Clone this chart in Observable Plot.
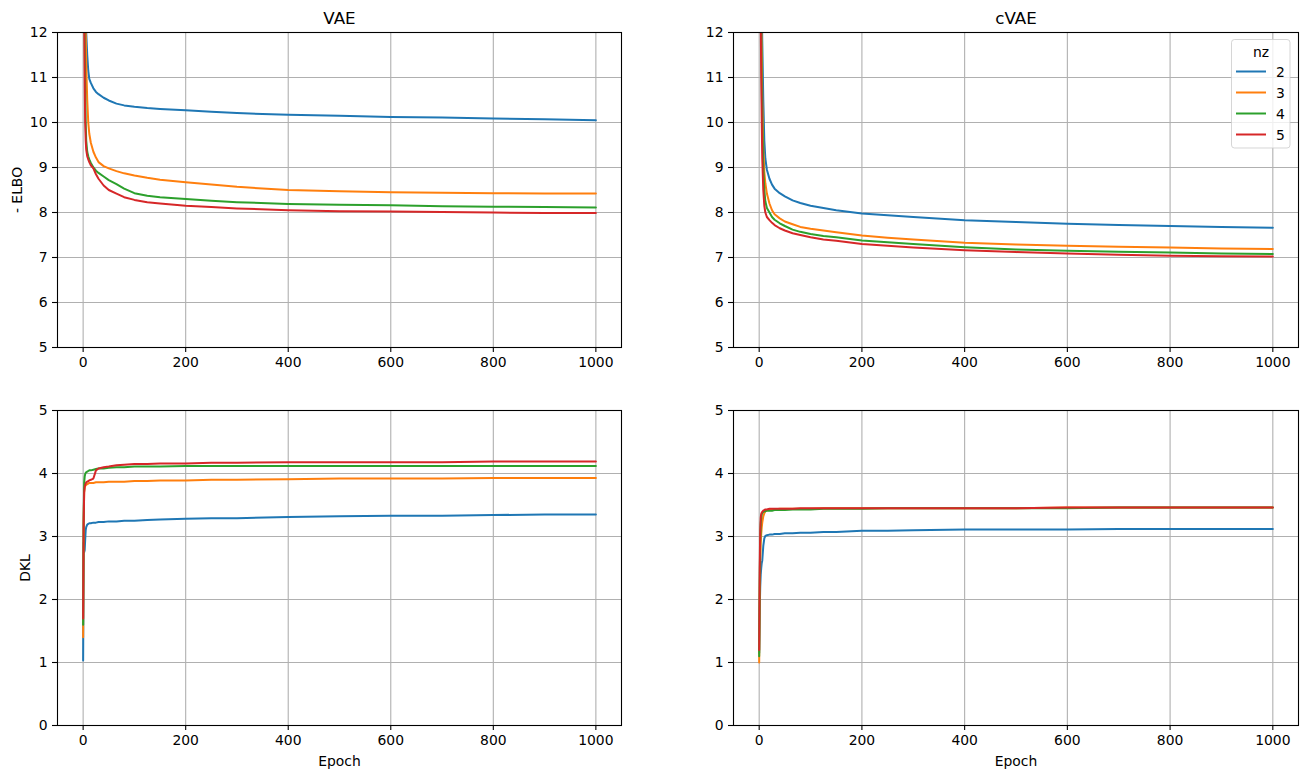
<!DOCTYPE html>
<html><head><meta charset="utf-8">
<script src="https://cdn.jsdelivr.net/npm/d3@7"></script>
<script src="https://cdn.jsdelivr.net/npm/@observablehq/plot@0.6"></script>
<style>
body{margin:0;background:#fff;}
#fig{position:relative;width:1307px;height:778px;font-family:"DejaVu Sans",sans-serif;background:#fff;}
#fig > svg, #fig > div{position:absolute;}
</style></head><body><div id="fig"></div>
<script>
// ---- data ----
const epochs = [0,1,2,3,4,5,6,8,10,12,15,20,25,30,40,50,65,80,100,125,150,200,250,300,400,500,600,700,800,900,1000];
const nzLabels = ["2","3","4","5"];
const colors = ["#1f77b4","#ff7f0e","#2ca02c","#d62728"];
const xTicks = [0,200,400,600,800,1000];
const elboTicks = [5,6,7,8,9,10,11,12];
const dklTicks = [0,1,2,3,4,5];

// VAE  - ELBO
const vaeElbo2 = [20,17,15,13.8,13,12.4,12.0,11.5,11.15,10.97,10.88,10.76,10.68,10.63,10.55,10.49,10.42,10.38,10.35,10.32,10.30,10.27,10.24,10.21,10.17,10.15,10.12,10.11,10.09,10.07,10.05];
const vaeElbo3 = [20,16,14,13,12.4,12.0,11.3,10.5,10.0,9.75,9.55,9.35,9.22,9.12,9.03,8.98,8.92,8.87,8.82,8.77,8.73,8.67,8.62,8.57,8.50,8.47,8.45,8.44,8.43,8.42,8.42];
const vaeElbo4 = [20,15,13,11.8,10.8,10.0,9.6,9.35,9.25,9.18,9.1,9.0,8.93,8.88,8.8,8.72,8.63,8.53,8.43,8.37,8.34,8.30,8.26,8.23,8.19,8.17,8.16,8.14,8.13,8.12,8.11];
const vaeElbo5 = [20,14.5,12.5,11,10.0,9.6,9.4,9.25,9.18,9.12,9.05,8.98,8.85,8.75,8.6,8.5,8.42,8.34,8.28,8.23,8.2,8.15,8.12,8.09,8.05,8.03,8.02,8.01,8.0,7.99,7.99];
// cVAE  - ELBO
const cvaeElbo2 = [25,20,17,15,13.5,12.6,11.8,10.5,9.6,9.2,8.95,8.75,8.62,8.53,8.43,8.36,8.27,8.21,8.15,8.1,8.05,7.98,7.94,7.9,7.83,7.79,7.75,7.72,7.70,7.68,7.66];
const cvaeElbo3 = [25,19,16,14,12.5,11.5,10.5,9.4,8.9,8.65,8.42,8.2,8.05,7.96,7.87,7.8,7.74,7.68,7.64,7.6,7.56,7.49,7.44,7.40,7.33,7.29,7.26,7.24,7.22,7.2,7.19];
const cvaeElbo4 = [25,18,15,13,11.8,10.8,10.0,9.0,8.5,8.25,8.1,8.0,7.9,7.84,7.76,7.7,7.62,7.57,7.52,7.48,7.45,7.38,7.34,7.3,7.23,7.18,7.15,7.13,7.11,7.09,7.08];
const cvaeElbo5 = [25,17,14,12.3,11,10,9.2,8.5,8.15,8.0,7.9,7.83,7.77,7.72,7.65,7.6,7.54,7.5,7.45,7.4,7.37,7.3,7.26,7.22,7.16,7.12,7.09,7.06,7.04,7.03,7.02];
// VAE  DKL
const vaeDkl2 = [1.03,2.9,2.75,2.78,2.95,3.1,3.15,3.19,3.2,3.21,3.21,3.22,3.22,3.23,3.23,3.24,3.24,3.25,3.25,3.26,3.27,3.28,3.29,3.29,3.31,3.32,3.33,3.33,3.34,3.35,3.35];
const vaeDkl3 = [1.4,3.2,3.7,3.78,3.8,3.81,3.82,3.83,3.84,3.85,3.85,3.85,3.86,3.86,3.86,3.87,3.87,3.87,3.88,3.88,3.89,3.89,3.9,3.9,3.91,3.92,3.92,3.92,3.93,3.93,3.93];
const vaeDkl4 = [1.6,3.3,3.85,3.95,3.99,4.01,4.02,4.03,4.04,4.05,4.05,4.06,4.07,4.08,4.08,4.09,4.1,4.1,4.11,4.11,4.11,4.12,4.12,4.12,4.12,4.12,4.12,4.12,4.12,4.12,4.12];
const vaeDkl5 = [1.7,3.2,3.7,3.78,3.82,3.84,3.86,3.87,3.88,3.89,3.9,3.92,4.05,4.08,4.1,4.11,4.13,4.14,4.15,4.15,4.16,4.16,4.17,4.17,4.18,4.18,4.18,4.18,4.19,4.19,4.19];
// cVAE DKL
const cvaeDkl2 = [1.15,1.8,2.2,2.4,2.5,2.58,2.62,2.85,2.97,3.01,3.02,3.03,3.03,3.04,3.04,3.05,3.05,3.06,3.06,3.07,3.07,3.09,3.09,3.1,3.11,3.11,3.11,3.12,3.12,3.12,3.12];
const cvaeDkl3 = [1.0,2.0,2.6,2.9,3.05,3.15,3.22,3.32,3.37,3.4,3.42,3.43,3.43,3.43,3.44,3.44,3.44,3.44,3.44,3.45,3.45,3.45,3.45,3.45,3.45,3.45,3.46,3.46,3.46,3.46,3.46];
const cvaeDkl4 = [1.1,2.3,2.9,3.2,3.3,3.35,3.37,3.39,3.4,3.4,3.41,3.41,3.41,3.42,3.42,3.42,3.43,3.43,3.43,3.44,3.44,3.44,3.45,3.45,3.45,3.45,3.45,3.46,3.46,3.46,3.46];
const cvaeDkl5 = [1.2,2.5,3.1,3.3,3.36,3.38,3.39,3.41,3.42,3.43,3.43,3.44,3.44,3.44,3.44,3.44,3.44,3.45,3.45,3.45,3.45,3.45,3.45,3.45,3.45,3.45,3.46,3.46,3.46,3.46,3.46];

// ---- drawing ----
const FONT = "DejaVu Sans";
const FS = 13.9;
const GRID = {stroke:"#b0b0b0", strokeOpacity:1, strokeWidth:1.1};
const fmt = d => String(d);

function toRows(seriesList){
  return seriesList.flatMap((vals,i)=>epochs.map((e,j)=>({epoch:e, value:vals[j], nz:nzLabels[i]})));
}

function panel({series, title, ylabel, ylabelDx, xlabel, yDomain, yTicks, left, top, width, height, mt, mr, mb, ml}){
  const marks = [
    Plot.gridX(xTicks, GRID),
    Plot.gridY(yTicks, GRID),
    Plot.line(toRows(series), {x:"epoch", y:"value", stroke:"nz", strokeWidth:2, clip:true}),
    Plot.frame({stroke:"black", strokeWidth:1.1}),
    Plot.axisX(xTicks, {tickSize:5, tickPadding:5, label:null, strokeWidth:1.1, fontSize:FS, tickFormat:fmt}),
    Plot.axisY(yTicks, {tickSize:5, tickPadding:5, label:null, strokeWidth:1.1, fontSize:FS, tickFormat:fmt})
  ];
  if (title) marks.push(Plot.text([title], {text:d=>d, frameAnchor:"top", dy:-14, lineAnchor:"middle", textAnchor:"middle", fontSize:16.7, fill:"black"}));
  if (ylabel) marks.push(Plot.text([ylabel], {text:d=>d, frameAnchor:"left", dx:ylabelDx, rotate:-90, textAnchor:"middle", lineAnchor:"middle", fontSize:FS, fill:"black"}));
  if (xlabel) marks.push(Plot.text([xlabel], {text:d=>d, frameAnchor:"bottom", dy:36, lineAnchor:"middle", textAnchor:"middle", fontSize:FS, fill:"black"}));
  const svg = Plot.plot({
    width, height, marginTop:mt, marginRight:mr, marginBottom:mb, marginLeft:ml,
    style:{fontFamily:FONT, fontSize:FS+"px", color:"black", background:"transparent", overflow:"visible"},
    x:{domain:[-50,1050]},
    y:{domain:yDomain},
    color:{domain:nzLabels, range:colors},
    marks
  });
  svg.style.left = left+"px";
  svg.style.top = top+"px";
  document.getElementById("fig").appendChild(svg);
}

panel({series:[vaeElbo2,vaeElbo3,vaeElbo4,vaeElbo5], title:"VAE", ylabel:"- ELBO", ylabelDx:-40,
  yDomain:[5,12], yTicks:elboTicks, left:0, top:0, width:653, height:389, mt:32, mr:32, mb:42, ml:57});
panel({series:[cvaeElbo2,cvaeElbo3,cvaeElbo4,cvaeElbo5], title:"cVAE",
  yDomain:[5,12], yTicks:elboTicks, left:653, top:0, width:654, height:389, mt:32, mr:9, mb:42, ml:80});
panel({series:[vaeDkl2,vaeDkl3,vaeDkl4,vaeDkl5], ylabel:"DKL", ylabelDx:-32, xlabel:"Epoch",
  yDomain:[0,5], yTicks:dklTicks, left:0, top:389, width:653, height:389, mt:21, mr:32, mb:53, ml:57});
panel({series:[cvaeDkl2,cvaeDkl3,cvaeDkl4,cvaeDkl5], xlabel:"Epoch",
  yDomain:[0,5], yTicks:dklTicks, left:653, top:389, width:654, height:389, mt:21, mr:9, mb:53, ml:80});

// legend (top-right panel)
const lg = d3.create("svg").attr("width",60).attr("height",110)
  .style("left","1231px").style("top","39px").style("font-family",FONT).style("font-size",FS+"px");
lg.append("rect").attr("x",0.5).attr("y",0.5).attr("width",58.5).attr("height",108.5).attr("rx",3)
  .attr("fill","white").attr("fill-opacity",0.8).attr("stroke","#cccccc").attr("stroke-opacity",0.8);
lg.append("text").attr("x",30).attr("y",13).attr("text-anchor","middle").attr("dominant-baseline","central").text("nz");
nzLabels.forEach((lab,i)=>{
  const y = 32.5 + i*21;
  lg.append("line").attr("x1",5).attr("x2",35).attr("y1",y).attr("y2",y).attr("stroke",colors[i]).attr("stroke-width",2);
  lg.append("text").attr("x",45).attr("y",y).attr("dominant-baseline","central").text(lab);
});
document.getElementById("fig").appendChild(lg.node());
</script></body></html>
